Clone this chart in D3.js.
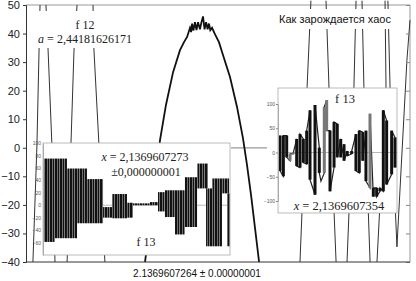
<!DOCTYPE html>
<html><head><meta charset="utf-8">
<script src="https://cdn.jsdelivr.net/npm/d3@7"></script>
<style>body{margin:0;background:#fff}svg{display:block}</style>
</head><body>
<svg id="c" width="416" height="281"></svg>
<script>
// ---------- DATA ----------
const title = "Как зарождается хаос";
const xLabel = "2.1369607264 ± 0.00000001";
const mainTicks = [50, 40, 30, 20, 10, 0, -10, -20, -30, -40];
const f12Label = "f 12";
const aLabel = "2,44181626171";
// main curve f12 (x in units of 1e-8 around centre, value)
const mainX = [-0.380,-0.302,-0.271,-0.234,-0.198,-0.177,-0.161,-0.146,-0.140,-0.135,-0.128,-0.120,-0.112,-0.104,-0.094,-0.086,-0.078,-0.070,-0.062,-0.054,-0.047,-0.040,-0.031,-0.016,0.005,0.026,0.0625,0.099,0.130,0.151,0.172,0.214];
const mainV = [-40,2.7,15,26.5,34.2,37,38.8,42,40.5,43.5,41,44,41.2,44,41.5,44,46,41.5,44,41.5,43.5,41.2,42,39.8,37,32.5,24.8,14.3,3.4,-6,-16.5,-40];
// other (steep) branches of f12: [x, value] points
const branches = [
  [[-0.927,50],[-0.932,34.2],[-0.943,1],[-0.964,-40]],
  [[-0.896,50],[-0.885,34.2],[-0.865,1],[-0.849,-40]],
  [[-0.734,50],[-0.750,34.2],[-0.766,1],[-0.786,-40]],
  [[-0.651,50],[-0.646,34.2],[-0.620,1],[-0.589,-40]],
  [[0.484,51.5],[0.464,21.3],[0.427,-40]],
  [[0.5625,51.5],[0.578,21.3],[0.615,-40]],
  [[0.719,51.5],[0.708,21.3],[0.672,-40]],
  [[0.750,51.5],[0.760,21.3],[0.792,-40]],
  [[0.870,51.5],[0.875,21.3],[0.828,-40]],
  [[0.885,51.5],[0.896,21.3],[0.932,-34.7],[0.984,30.7],[1.0,44.7]]
];
// left inset: f13 at x = 2,1369607273 ± 0,000000001 (blocks of dense oscillation)
const leftTicks = [100, 80, 60, 40, 20, 0, -20, -40, -60];
const blockStart = [0,6.4,12.8,18.2,23.5,32.1,36.9,44.9,48.1,57.2,61.5,65.2,70.6,75.9,82.4,87.2,90.4,95.7,98.4];
const blockEnd   = [6.4,12.8,18.2,23.5,32.1,36.9,44.9,48.1,57.2,61.5,65.2,70.6,75.9,82.4,88.2,90.4,95.7,99.5,100];
const blockHigh  = [75,75,59,59,42,-3,18,4,3,5,21,24,24,45,67,27,43,43,19];
const blockLow   = [-59,-53,-53,-29,-29,-20,-21,-20,0,0,-10,-19,-47,-35,27,-66,-66,19,-66];
const leftText1 = "2,1369607273";
const leftText2 = "±0,000000001";
const f13Label = "f 13";
// right inset: f13 at x = 2,1369607354 (bars: position, start value, end value)
const rightTicks = [100, 50, 0, -50, -100];
const barT    = [1.7,4.5,7.3,10.1,12.9,15.7,18.5,21.3,24.1,26.9,31.1,34.7,36.1,38.9,40.9,43.7,47.1,49.8,52.7,55.5,58.2,61.9,65.5,68.3,71.2,73.9,77.3,80.1,82.9,85.7,88.5,91.3,95.5,98.3];
const barFrom = [35,-49,35,-17,-3,28,-31,28,-24,87,-87,10,-59,-42,108,45,-31,59,28,17,3,-3,38,-42,42,45,-73,-91,-73,-80,-80,66,-45,31];
const barTo   = [-38,35,-10,-3,0,-28,38,-21,45,-56,98,-42,-59,94,45,-80,63,-10,-10,-17,-7,3,-38,45,-17,-59,80,-73,-91,-73,87,-66,45,-31];
const rightText = "2,1369607354";

// ---------- DRAW ----------
const svg = d3.select("#c");
const defs = svg.append("defs");
const pat = defs.append("pattern").attr("id","stripes").attr("patternUnits","userSpaceOnUse")
  .attr("width",5).attr("height",4);
pat.append("rect").attr("width",5).attr("height",4).attr("fill","#111");
pat.append("rect").attr("x",2).attr("width",0.9).attr("height",4).attr("fill","#777");
pat.append("rect").attr("x",4.3).attr("width",0.7).attr("height",4).attr("fill","#aaa");

const x = d3.scaleLinear().domain([-1,1]).range([26,410]);
const y = d3.scaleLinear().domain([-40,50]).range([262,5]);

// frame
svg.append("line").attr("x1",26).attr("x2",410).attr("y1",5).attr("y2",5).attr("stroke","#999");
svg.append("line").attr("x1",410).attr("x2",410).attr("y1",5).attr("y2",262).attr("stroke","#999");

// main zero marker
svg.append("line").attr("x1",231).attr("x2",267).attr("y1",y(0)).attr("y2",y(0)).attr("stroke","#999").attr("stroke-width",1.2);

const line = d3.line().x(d=>x(d[0])).y(d=>y(d[1]));
svg.append("g").selectAll("path").data(branches).join("path")
  .attr("d",line).attr("fill","none").attr("stroke","#333").attr("stroke-width",1);

svg.append("path").datum(mainX.map((v,i)=>[v,mainV[i]])).attr("d",line)
  .attr("fill","none").attr("stroke","#111").attr("stroke-width",1.8);

// axes
const yAxis = d3.axisLeft(y).tickValues(mainTicks).tickSize(3).tickPadding(3).tickFormat(d3.format("d"));
const gy = svg.append("g").attr("transform","translate(26,0)").call(yAxis);
gy.select(".domain").attr("stroke","#333");
gy.selectAll(".tick line").attr("stroke","#333");
gy.selectAll("text").attr("font-family","Arial, 'Liberation Sans', sans-serif").attr("font-size",11).attr("fill","#222");
const yAxisR = d3.axisLeft(y).tickValues(mainTicks).tickSize(4).tickFormat("");
const gyr = svg.append("g").attr("transform","translate(410,0)").call(yAxisR);
gyr.select(".domain").remove();
gyr.selectAll(".tick line").attr("stroke","#888");
svg.append("line").attr("x1",26).attr("x2",410).attr("y1",262).attr("y2",262).attr("stroke","#333");

svg.append("text").attr("x",197).attr("y",277).attr("text-anchor","middle")
  .attr("font-family","Arial, 'Liberation Sans', sans-serif").attr("font-size",10).attr("fill","#111").text(xLabel);

// text boxes
svg.append("rect").attr("x",30).attr("y",11).attr("width",106).attr("height",37).attr("fill","#fff");
svg.append("text").attr("x",85).attr("y",29).attr("text-anchor","middle")
  .attr("font-family","'Liberation Serif', 'Times New Roman', serif").attr("font-size",12).attr("fill","#222").text(f12Label);
const at = svg.append("text").attr("x",85).attr("y",43).attr("text-anchor","middle")
  .attr("font-family","'Liberation Serif', 'Times New Roman', serif").attr("font-size",12).attr("fill","#222");
at.append("tspan").attr("font-style","italic").text("a");
at.append("tspan").text(" = " + aLabel);

svg.append("rect").attr("x",268).attr("y",9).attr("width",134).attr("height",20).attr("fill","#fff");
svg.append("text").attr("x",335).attr("y",23).attr("text-anchor","middle")
  .attr("font-family","Arial, 'Liberation Sans', sans-serif").attr("font-size",11).attr("fill","#111").text(title);

// ---------- left inset ----------
const L = svg.append("g");
L.append("rect").attr("x",43).attr("y",143).attr("width",187).attr("height",112).attr("fill","#fff").attr("stroke","#aaa").attr("stroke-width",0.8);
const xl = d3.scaleLinear().domain([0,100]).range([43,230]);
const yl = d3.scaleLinear().domain([-80,100]).range([255,143]);
L.append("line").attr("x1",43).attr("x2",230).attr("y1",yl(0)).attr("y2",yl(0)).attr("stroke","#999").attr("stroke-width",0.7);
L.selectAll("rect.blk").data(blockStart).join("rect").attr("class","blk")
  .attr("x",(d,i)=>xl(d)).attr("width",(d,i)=>Math.max(1,xl(blockEnd[i])-xl(d)))
  .attr("y",(d,i)=>yl(Math.max(blockHigh[i],blockLow[i])))
  .attr("height",(d,i)=>Math.max(1.5,Math.abs(yl(blockLow[i])-yl(blockHigh[i]))))
  .attr("fill","url(#stripes)");
const gl = L.append("g").attr("transform","translate(43,0)")
  .call(d3.axisLeft(yl).tickValues(leftTicks).tickSize(0).tickPadding(2));
gl.select(".domain").attr("stroke","#aaa");
gl.selectAll("text").attr("font-family","Arial, sans-serif").attr("font-size",5).attr("fill","#555");
const lt = L.append("text").attr("x",145).attr("y",161).attr("text-anchor","middle")
  .attr("font-family","'Liberation Serif', serif").attr("font-size",12).attr("fill","#222");
lt.append("tspan").attr("font-style","italic").text("x");
lt.append("tspan").text(" = " + leftText1);
L.append("text").attr("x",146).attr("y",176).attr("text-anchor","middle")
  .attr("font-family","'Liberation Serif', serif").attr("font-size",12).attr("fill","#222").text(leftText2);
L.append("text").attr("x",146).attr("y",246).attr("text-anchor","middle")
  .attr("font-family","'Liberation Serif', serif").attr("font-size",12).attr("fill","#222").text(f13Label);

// ---------- right inset ----------
const R = svg.append("g");
R.append("rect").attr("x",278).attr("y",88).attr("width",119).attr("height",125).attr("fill","#fff").attr("stroke","#aaa").attr("stroke-width",0.8);
const xr = d3.scaleLinear().domain([0,100]).range([278,397]);
const yr = d3.scaleLinear().domain([-100,100]).range([201,104]);
R.append("line").attr("x1",278).attr("x2",397).attr("y1",yr(0)).attr("y2",yr(0)).attr("stroke","#999").attr("stroke-width",0.7);
const grayBars = new Set([3,4,13,14,26]);
const conn = [];
barT.forEach((t,i)=>{ conn.push([t,barFrom[i]]); conn.push([t,barTo[i]]); });
R.append("path").datum(conn).attr("d",d3.line().x(d=>xr(d[0])).y(d=>yr(d[1])))
  .attr("fill","none").attr("stroke","#222").attr("stroke-width",1.2);
R.selectAll("line.bar").data(barT).join("line").attr("class","bar")
  .attr("x1",d=>xr(d)).attr("x2",d=>xr(d))
  .attr("y1",(d,i)=>yr(barFrom[i])).attr("y2",(d,i)=>yr(barTo[i]))
  .attr("stroke",(d,i)=>grayBars.has(i)?"#777":"#111").attr("stroke-width",3);
const gr = R.append("g").attr("transform","translate(278,0)")
  .call(d3.axisLeft(yr).tickValues(rightTicks).tickSize(2).tickPadding(1));
gr.select(".domain").attr("stroke","#aaa");
gr.selectAll(".tick line").attr("stroke","#888");
gr.selectAll("text").attr("font-family","Arial, sans-serif").attr("font-size",5).attr("fill","#555");
R.append("text").attr("x",345).attr("y",103).attr("text-anchor","middle")
  .attr("font-family","'Liberation Serif', serif").attr("font-size",12.5).attr("fill","#222").text(f13Label);
const rt = R.append("text").attr("x",339).attr("y",210).attr("text-anchor","middle")
  .attr("font-family","'Liberation Serif', serif").attr("font-size",12.5).attr("fill","#222");
rt.append("tspan").attr("font-style","italic").text("x");
rt.append("tspan").text(" = " + rightText);
</script>
</body></html>
